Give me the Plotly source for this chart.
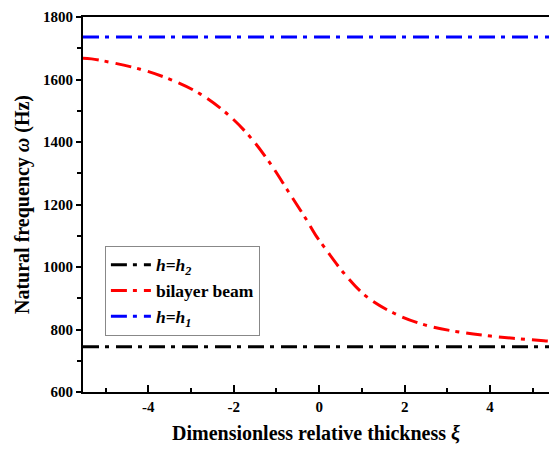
import plotly.graph_objects as go

xi = [-5.53, -5.33, -4.19, -3.45, -2.79, -2.12, -1.58, -1.12, -0.72, -0.32, -0.06,
      0.11, 0.58, 1.11, 1.75, 2.49, 3.23, 4.01, 5.26, 5.38]
bilayer = [1668, 1666, 1633, 1598, 1554, 1486, 1410, 1326, 1241, 1156, 1097,
           1065, 980, 905, 852, 814, 793, 779, 764, 763]
xi_flat = [-5.53, 5.38]
h1_val = [1736, 1736]
h2_val = [745, 745]
x_ticks = [-4, -2, 0, 2, 4]
x_ticktext = ["-4", "-2", "0", "2", "4"]
y_ticks = [600, 800, 1000, 1200, 1400, 1600, 1800]

dash = "16px,6px,4px,7px"
font_family = "Liberation Serif, Times New Roman, serif"

fig = go.Figure()
fig.add_trace(go.Scatter(x=xi_flat, y=h2_val, mode="lines",
                         name="<i>h</i>=<i>h<sub>2</sub></i>",
                         line=dict(color="black", width=3, dash=dash)))
fig.add_trace(go.Scatter(x=xi, y=bilayer, mode="lines", name="bilayer beam",
                         line=dict(color="red", width=3, dash=dash, shape="spline")))
fig.add_trace(go.Scatter(x=xi_flat, y=h1_val, mode="lines",
                         name="<i>h</i>=<i>h<sub>1</sub></i>",
                         line=dict(color="blue", width=3, dash=dash)))

fig.update_layout(
    width=549, height=449,
    margin=dict(l=83, r=0, t=17, b=57),
    plot_bgcolor="white", paper_bgcolor="white",
    font=dict(family=font_family, size=15, color="black"),
    legend=dict(x=0.047, y=0.39, xanchor="left", yanchor="top",
                bgcolor="white", bordercolor="#888", borderwidth=1,
                font=dict(family=font_family, size=17.5, color="black", weight="bold"),
                tracegroupgap=0, itemwidth=40),
    xaxis=dict(range=[-5.53, 5.38], tickvals=x_ticks, ticktext=x_ticktext,
               ticks="inside", ticklen=7, tickwidth=1.5, tickcolor="black",
               minor=dict(tickvals=[-5, -3, -1, 1, 3, 5], ticks="inside", ticklen=4,
                          tickwidth=1.5, tickcolor="black"),
               showline=True, linecolor="black", linewidth=2, mirror=True,
               showgrid=False, zeroline=False,
               tickfont=dict(family=font_family, size=15, weight="bold"),
               title=dict(text="Dimensionless relative thickness <i>ξ</i>",
                          font=dict(family=font_family, size=20, weight="bold"),
                          standoff=12)),
    yaxis=dict(range=[600, 1800], tickvals=y_ticks,
               ticks="outside", ticklen=5, tickwidth=1.5, tickcolor="black",
               minor=dict(tickvals=[700, 900, 1100, 1300, 1500, 1700], ticks="outside",
                          ticklen=4, tickwidth=1.5, tickcolor="black"),
               showline=True, linecolor="black", linewidth=2, mirror=False,
               showgrid=False, zeroline=False,
               tickfont=dict(family=font_family, size=15, weight="bold"),
               title=dict(text="Natural frequency <i>ω</i> (Hz)",
                          font=dict(family=font_family, size=20, weight="bold"),
                          standoff=8)),
)

fig.write_html("out.html")
